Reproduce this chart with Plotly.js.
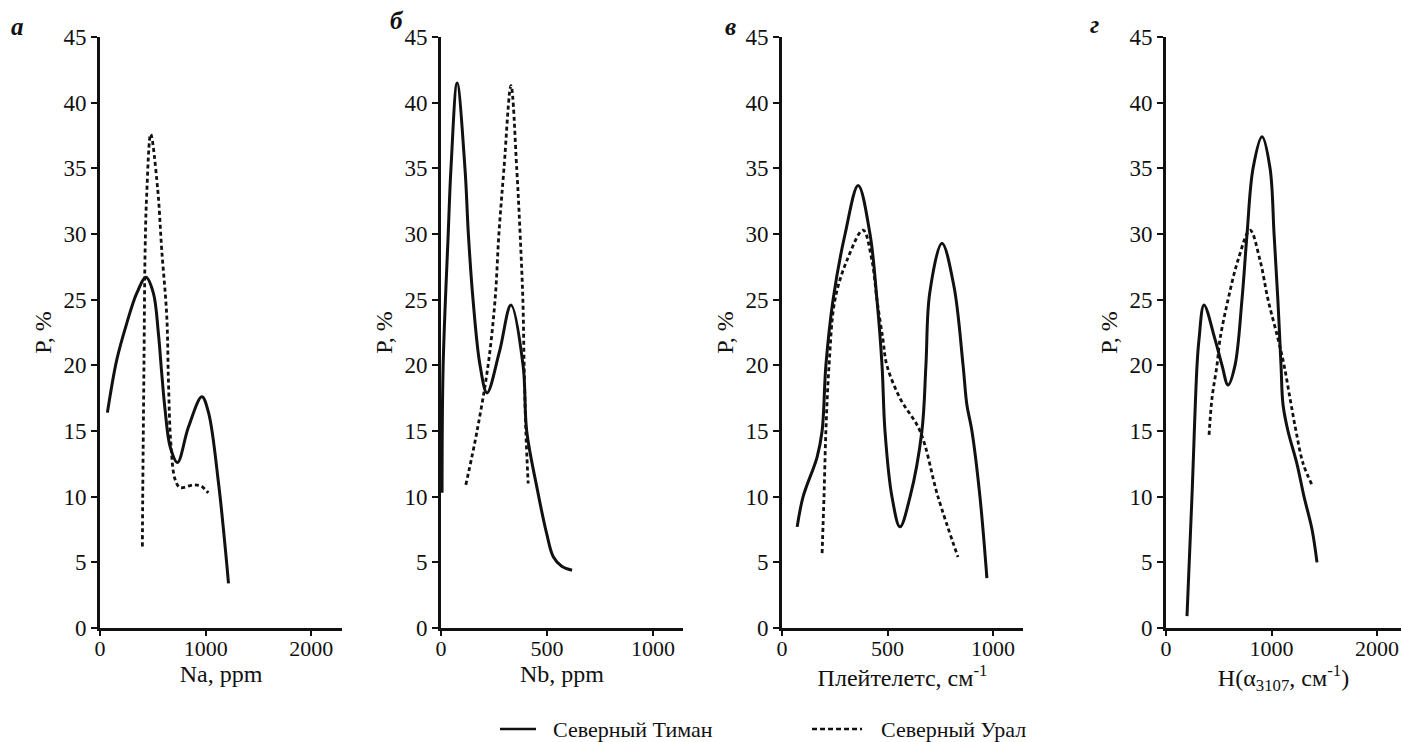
<!DOCTYPE html>
<html>
<head>
<meta charset="utf-8">
<script src="https://cdn.plot.ly/plotly-3.0.1.min.js"></script>
<style>
html,body{margin:0;padding:0;background:#fff}
#chart{width:1402px;height:742px}
</style>
</head>
<body>
<div id="chart"></div>
<script>
// Panel а — Na, ppm
const naTimanX = [70, 158, 253, 348, 436, 505, 553, 584, 616, 664, 733, 837, 964, 1027, 1122, 1184, 1216];
const naTimanY = [16.4, 20.4, 23.2, 25.5, 26.7, 25.5, 22.4, 19.4, 16.6, 13.8, 12.6, 15.3, 17.6, 16.4, 11.0, 6.2, 3.4];
const naUralX = [401, 404, 416, 427, 442, 480, 545, 584, 632, 648, 670, 711, 758, 885, 960, 1011, 1027];
const naUralY = [6.2, 9.7, 20.0, 28.8, 33.0, 37.6, 33.5, 28.8, 23.7, 18.7, 14.1, 11.3, 10.7, 10.9, 10.8, 10.4, 10.3];

// Panel б — Nb, ppm
const nbTimanX = [5, 10, 34, 47, 76, 113, 129, 151, 184, 217, 275, 330, 387, 404, 451, 498, 530, 569, 618];
const nbTimanY = [10.3, 19.9, 30.0, 35.0, 41.5, 35.0, 30.0, 25.0, 20.0, 17.9, 21.0, 24.6, 20.0, 15.0, 10.8, 7.2, 5.4, 4.7, 4.4];
const nbUralX = [117, 170, 222, 255, 273, 297, 330, 357, 373, 386, 392, 400, 411];
const nbUralY = [10.9, 15.0, 20.0, 25.0, 30.0, 35.0, 41.3, 35.0, 30.0, 25.0, 20.0, 15.0, 11.0];

// Panel в — Плейтелетс, см-1
const plTimanX = [72, 100, 166, 190, 208, 242, 299, 361, 417, 450, 474, 488, 521, 559, 607, 663, 682, 700, 758, 815, 858, 876, 900, 938, 971];
const plTimanY = [7.7, 10.0, 13.0, 15.0, 20.0, 25.0, 30.0, 33.7, 30.0, 25.0, 20.0, 15.0, 10.0, 7.7, 10.0, 15.0, 20.0, 25.5, 29.3, 26.0, 20.0, 17.0, 15.0, 10.0, 3.8];
const plUralX = [190, 199, 208, 223, 251, 308, 384, 426, 450, 478, 497, 559, 654, 739, 834];
const plUralY = [5.7, 10.0, 15.0, 20.0, 25.0, 28.0, 30.3, 28.0, 25.0, 22.0, 20.0, 17.5, 15.0, 10.0, 5.4];

// Panel г — H(α3107, см-1)
const hTimanX = [199, 246, 294, 313, 360, 464, 531, 588, 654, 720, 768, 825, 910, 986, 1024, 1060, 1090, 1109, 1156, 1241, 1308, 1384, 1431];
const hTimanY = [0.9, 10.0, 20.0, 22.0, 24.6, 22.0, 20.0, 18.5, 20.0, 25.0, 30.0, 35.0, 37.4, 35.0, 30.0, 25.0, 20.0, 17.0, 15.0, 12.5, 10.0, 7.5, 5.0];
const hUralX = [408, 436, 483, 512, 588, 682, 796, 891, 967, 1062, 1119, 1175, 1232, 1300, 1384];
const hUralY = [14.7, 17.5, 20.0, 22.0, 25.0, 28.0, 30.3, 28.0, 25.0, 22.0, 20.0, 17.5, 15.0, 12.5, 10.9];

const seriesNames = ['Северный Тиман', 'Северный Урал'];
const panelLetters = ['а', 'б', 'в', 'г'];
const xTitles = ['Na, ppm', 'Nb, ppm', 'Плейтелетс, см<sup>-1</sup>', 'H(α<sub>3107</sub>, см<sup>-1</sup>)'];
const yTitle = 'P, %';

const W = 1402, H = 742;
const serif = 'Liberation Serif';
const ink = '#111';

const panels = [
  {tx: naTimanX, ty: naTimanY, ux: naUralX, uy: naUralY, left: 100, right: 342, range: 2290, dtick: 1000, lx: 9, ly: 26},
  {tx: nbTimanX, ty: nbTimanY, ux: nbUralX, uy: nbUralY, left: 441, right: 683, range: 1141, dtick: 500, lx: 388, ly: 21},
  {tx: plTimanX, ty: plTimanY, ux: plUralX, uy: plUralY, left: 782, right: 1023, range: 1142, dtick: 500, lx: 723, ly: 26},
  {tx: hTimanX, ty: hTimanY, ux: hUralX, uy: hUralY, left: 1166, right: 1401, range: 2227, dtick: 1000, lx: 1088, ly: 24}
];

const yTop = 37, yBot = 628;
const yDomain = [1 - yBot / H, 1 - yTop / H];

const data = [];
const layout = {
  width: W, height: H,
  margin: {l: 0, r: 0, t: 0, b: 0},
  paper_bgcolor: '#fff', plot_bgcolor: '#fff',
  font: {family: serif, color: ink, size: 20},
  showlegend: false,
  annotations: [],
  shapes: []
};

panels.forEach((p, i) => {
  const n = i === 0 ? '' : String(i + 1);
  data.push({
    x: p.tx, y: p.ty, xaxis: 'x' + n, yaxis: 'y' + n, type: 'scatter', mode: 'lines',
    name: seriesNames[0],
    line: {color: ink, width: 3, shape: 'spline', smoothing: 1}, hoverinfo: 'skip'
  });
  data.push({
    x: p.ux, y: p.uy, xaxis: 'x' + n, yaxis: 'y' + n, type: 'scatter', mode: 'lines',
    name: seriesNames[1],
    line: {color: ink, width: 2.8, dash: '4px,3px', shape: 'spline', smoothing: 1}, hoverinfo: 'skip'
  });
  layout['xaxis' + n] = {
    domain: [p.left / W, p.right / W], range: [0, p.range], anchor: 'y' + n,
    dtick: p.dtick, tick0: 0, ticks: 'outside', ticklen: 5, tickwidth: 2, tickcolor: ink,
    ticklabelstandoff: -6,
    showline: true, linecolor: ink, linewidth: 2.8, showgrid: false, zeroline: false,
    tickfont: {family: serif, size: 22, color: ink},
    title: {text: xTitles[i], font: {family: serif, size: 24, color: ink}, standoff: 0}
  };
  layout['yaxis' + n] = {
    domain: yDomain, range: [0, 45], anchor: 'x' + n,
    dtick: 5, tick0: 0, ticks: 'outside', ticklen: 6, tickwidth: 2, tickcolor: ink,
    showline: true, linecolor: ink, linewidth: 2.8, showgrid: false, zeroline: false,
    tickfont: {family: serif, size: 23, color: ink},
    title: {text: yTitle, font: {family: serif, size: 24, color: ink}, standoff: 6}
  };
  layout.annotations.push({
    xref: 'paper', yref: 'paper', x: p.lx / W, y: 1 - p.ly / H,
    xanchor: 'left', yanchor: 'middle', showarrow: false,
    text: '<b><i>' + panelLetters[i] + '</i></b>', font: {family: serif, size: 25, color: ink}
  });
});

// Legend drawn below the panels
const legendY = 1 - 729 / H;
layout.shapes.push({type: 'line', xref: 'paper', yref: 'paper', x0: 500 / W, x1: 536 / W, y0: legendY, y1: legendY,
  line: {color: ink, width: 2.6}});
layout.shapes.push({type: 'line', xref: 'paper', yref: 'paper', x0: 812 / W, x1: 862 / W, y0: legendY, y1: legendY,
  line: {color: ink, width: 2.4, dash: '5px,3px'}});
layout.annotations.push({xref: 'paper', yref: 'paper', x: 551 / W, y: legendY, xanchor: 'left', yanchor: 'middle',
  showarrow: false, text: seriesNames[0], font: {family: serif, size: 22, color: ink}});
layout.annotations.push({xref: 'paper', yref: 'paper', x: 879 / W, y: legendY, xanchor: 'left', yanchor: 'middle',
  showarrow: false, text: seriesNames[1], font: {family: serif, size: 22, color: ink}});

Plotly.newPlot('chart', data, layout, {staticPlot: true, displayModeBar: false});
</script>
</body>
</html>
